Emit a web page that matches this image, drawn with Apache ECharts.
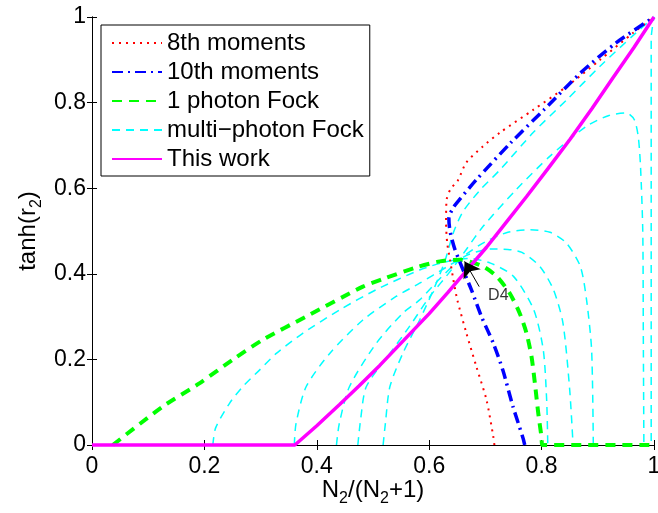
<!DOCTYPE html>
<html>
<head>
<meta charset="utf-8">
<script src="https://cdn.jsdelivr.net/npm/echarts@6/dist/echarts.min.js"></script>
<style>
    html, body { margin: 0; padding: 0; background: #fff; }
    #main { width: 658px; height: 513px; }
</style>
</head>
<body>
<div id="main"></div>
<script>
// axis ticks
var xTicks = [0, 0.2, 0.4, 0.6, 0.8, 1];
var yTicks = [0, 0.2, 0.4, 0.6, 0.8, 1];

// 8th moments (red dotted)
var moments8 = [[0.716, 0], [0.714, 0.02], [0.702, 0.105], [0.684, 0.183], [0.666, 0.262], [0.650, 0.339],
    [0.643, 0.386], [0.637, 0.433], [0.632, 0.472], [0.630, 0.52], [0.631, 0.573], [0.638, 0.598],
    [0.651, 0.618], [0.666, 0.66], [0.695, 0.697], [0.726, 0.73], [0.785, 0.783], [0.845, 0.838],
    [0.904, 0.90], [0.963, 0.963], [1, 1]];

// 10th moments (blue dash-dot)
var moments10 = [[0.77, 0], [0.767, 0.016], [0.749, 0.09], [0.731, 0.175], [0.714, 0.238], [0.693, 0.30],
    [0.675, 0.363], [0.66, 0.41], [0.645, 0.46], [0.637, 0.50], [0.635, 0.53], [0.643, 0.555],
    [0.655, 0.575], [0.684, 0.62], [0.745, 0.706], [0.804, 0.783], [0.869, 0.869], [0.933, 0.94], [1, 1]];

// 1 photon Fock (green dashed)
var fock1 = [[0.037, 0], [0.126, 0.09], [0.191, 0.144], [0.25, 0.199], [0.304, 0.246], [0.381, 0.30],
    [0.482, 0.37], [0.518, 0.388], [0.577, 0.415], [0.619, 0.429], [0.654, 0.433], [0.696, 0.417],
    [0.72, 0.394], [0.743, 0.355], [0.761, 0.308], [0.773, 0.262], [0.782, 0.207], [0.788, 0.145],
    [0.794, 0.075], [0.80, 0.016], [0.801, 0], [1, 0]];

// multi-photon Fock (cyan dashed), one array per curve
var fockA = [[0.215, 0], [0.22, 0.04], [0.245, 0.098], [0.268, 0.136], [0.298, 0.175], [0.328, 0.214],
    [0.375, 0.261], [0.441, 0.316], [0.506, 0.363], [0.583, 0.409], [0.63, 0.428], [0.67, 0.436],
    [0.709, 0.425], [0.75, 0.394], [0.786, 0.316], [0.803, 0.222], [0.809, 0.105], [0.811, 0]];
var fockB = [[0.36, 0], [0.363, 0.05], [0.381, 0.136], [0.423, 0.214], [0.482, 0.292], [0.541, 0.347],
    [0.583, 0.378], [0.63, 0.415], [0.67, 0.445], [0.71, 0.458], [0.74, 0.457], [0.765, 0.45],
    [0.797, 0.417], [0.821, 0.363], [0.838, 0.285], [0.85, 0.129], [0.856, 0]];
var fockC = [[0.435, 0], [0.44, 0.05], [0.458, 0.136], [0.506, 0.238], [0.553, 0.308], [0.583, 0.339],
    [0.62, 0.39], [0.66, 0.44], [0.70, 0.475], [0.74, 0.497], [0.78, 0.503], [0.815, 0.497],
    [0.844, 0.472], [0.869, 0.417], [0.88, 0.339], [0.889, 0.222], [0.892, 0]];
var fockD = [[0.473, 0], [0.478, 0.06], [0.488, 0.136], [0.53, 0.214], [0.565, 0.277], [0.60, 0.345],
    [0.64, 0.41], [0.665, 0.455], [0.696, 0.511], [0.755, 0.597], [0.815, 0.675], [0.88, 0.745],
    [0.92, 0.77], [0.951, 0.776], [0.965, 0.76], [0.972, 0.72], [0.976, 0.651], [0.98, 0.5],
    [0.981, 0.25], [0.982, 0]];
var fockE = [[0.518, 0], [0.522, 0.05], [0.53, 0.136], [0.553, 0.214], [0.583, 0.292], [0.61, 0.37],
    [0.628, 0.43], [0.643, 0.496], [0.66, 0.545], [0.69, 0.595], [0.726, 0.643], [0.785, 0.73],
    [0.845, 0.807], [0.904, 0.885], [0.963, 0.957], [1, 1], [0.995, 0.95], [0.995, 0]];
var fockMulti = [fockA, fockB, fockC, fockD, fockE];

// This work (magenta solid)
var thisWork = [[0, 0], [0.361, 0], [0.40, 0.045], [0.441, 0.095], [0.475, 0.138], [0.512, 0.186],
    [0.555, 0.245], [0.60, 0.307], [0.633, 0.356], [0.666, 0.407], [0.702, 0.462], [0.738, 0.522],
    [0.773, 0.580], [0.812, 0.647], [0.851, 0.715], [0.89, 0.787], [0.927, 0.858], [0.964, 0.928], [1, 1]];

// D4 annotation
var d4Arrow = [[0.689, 0.37], [0.663, 0.429]];
var d4Label = [0.723, 0.349];

var legendNames = ['8th moments', '10th moments', '1 photon Fock', 'multi\u2212photon Fock', 'This work'];

var font = 'Liberation Sans, Arial, Helvetica, sans-serif';
var subRich = {
    sub: { fontSize: 16, fontFamily: font, color: '#000', lineHeight: 14, verticalAlign: 'bottom' }
};

function tickFmt (v) {
    return String(Math.round(v * 10) / 10);
}

function curve (name, data, color, width, dash, smooth) {
    return {
        name: name, type: 'line', data: data, symbol: 'none', smooth: smooth, clip: false,
        itemStyle: { color: color, opacity: 0 },
        lineStyle: { color: color, width: width, type: dash }
    };
}

var series = [];
fockMulti.forEach(function (d) {
    series.push(curve(legendNames[3], d, '#00ffff', 1.5, [8, 6], 0.25));
});
series.push(curve(legendNames[2], fock1, '#00ff00', 4, [10, 7], 0.25));
series.push(curve(legendNames[0], moments8, '#ff0000', 2, [2, 5], 0.25));
series.push(curve(legendNames[1], moments10, '#0000ff', 3.5, [11, 5, 2, 5], 0.25));
series.push(curve(legendNames[4], thisWork, '#ff00ff', 3.5, 'solid', false));
series.push({
    type: 'lines', coordinateSystem: 'cartesian2d', silent: true, z: 10,
    symbol: ['none', 'arrow'], symbolSize: [0, 15],
    lineStyle: { color: '#000', width: 1, opacity: 1 },
    data: [{ coords: d4Arrow }]
});
series.push({
    type: 'scatter', symbolSize: 0, silent: true, z: 10,
    data: [d4Label],
    label: { show: true, position: 'inside', formatter: 'D4', fontSize: 16, fontFamily: font, color: '#000' }
});

var option = {
    animation: false,
    backgroundColor: '#fff',
    grid: { left: 92, right: 4, top: 17, bottom: 68, containLabel: false, outerBoundsMode: 'none' },
    legend: {
        data: legendNames,
        orient: 'vertical',
        left: 101, top: 25,
        padding: [6, 6, 5, 10],
        itemWidth: 50, itemHeight: 14, itemGap: 5,
        itemStyle: { opacity: 0 },
        backgroundColor: '#fff',
        borderColor: '#000', borderWidth: 1,
        textStyle: { fontSize: 24, lineHeight: 24, fontFamily: font, color: '#000' }
    },
    xAxis: [
        {
            type: 'value', min: xTicks[0], max: xTicks[xTicks.length - 1], interval: 0.2,
            splitLine: { show: false },
            axisLine: { lineStyle: { color: '#000', width: 1 } },
            axisTick: { inside: true, length: 5, lineStyle: { color: '#000' } },
            axisLabel: { fontSize: 23, fontFamily: font, color: '#000', margin: 10, formatter: tickFmt },
            name: 'N{sub|2}/(N{sub|2}+1)', nameLocation: 'middle', nameGap: 28, nameMoveOverlap: false,
            nameTextStyle: { fontSize: 24, fontFamily: font, color: '#000', lineHeight: 34, rich: subRich }
        },
        {
            type: 'value', position: 'top', min: xTicks[0], max: xTicks[xTicks.length - 1], interval: 0.2,
            splitLine: { show: false },
            axisLine: { lineStyle: { color: '#000', width: 1 } },
            axisTick: { inside: true, length: 5, lineStyle: { color: '#000' } },
            axisLabel: { show: false }
        }
    ],
    yAxis: [
        {
            type: 'value', min: yTicks[0], max: yTicks[yTicks.length - 1], interval: 0.2,
            splitLine: { show: false },
            axisLine: { show: true, lineStyle: { color: '#000', width: 1 } },
            axisTick: { show: true, inside: true, length: 5, lineStyle: { color: '#000' } },
            axisLabel: { fontSize: 23, fontFamily: font, color: '#000', margin: 6, formatter: tickFmt },
            name: 'tanh(r{sub|2})', nameLocation: 'middle', nameGap: 47, nameRotate: 90, nameMoveOverlap: false,
            nameTextStyle: { fontSize: 24, fontFamily: font, color: '#000', lineHeight: 34, rich: subRich }
        },
        {
            type: 'value', position: 'right', min: yTicks[0], max: yTicks[yTicks.length - 1], interval: 0.2,
            splitLine: { show: false },
            axisLine: { show: true, lineStyle: { color: '#000', width: 1 } },
            axisTick: { show: true, inside: true, length: 5, lineStyle: { color: '#000' } },
            axisLabel: { show: false }
        }
    ],
    series: series
};

var myChart = echarts.init(document.getElementById('main'));
myChart.setOption(option);
</script>
</body>
</html>
